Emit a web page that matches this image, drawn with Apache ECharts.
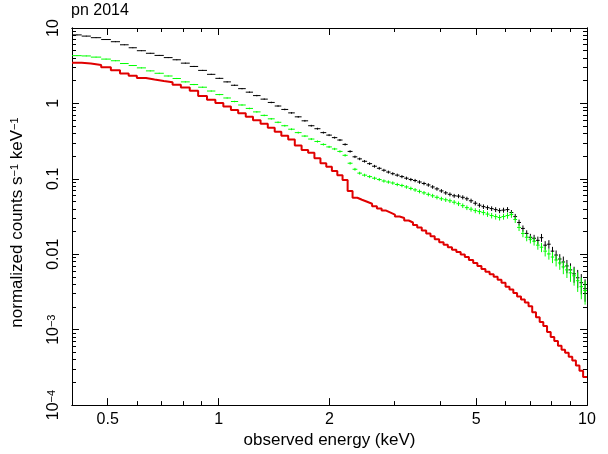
<!DOCTYPE html>
<html><head><meta charset="utf-8">
<script src="https://cdn.jsdelivr.net/npm/echarts@6/dist/echarts.min.js"></script>
<style>html,body{margin:0;padding:0;background:#fff}#c{width:608px;height:454px}</style>
</head><body><div id="c"></div>
<script>
// ---- data ----
const titleText = 'pn 2014';
const binEdges = [0.40,0.425,0.45,0.48,0.51,0.54,0.57,0.60,0.635,0.67,
  0.71,0.75,0.79,0.835,0.88,0.93,0.98,1.03,1.08,1.13,
  1.185,1.24,1.30,1.36,1.42,1.48,1.545,1.61,1.68,1.75,
  1.82,1.89,1.96,2.03,2.10,2.17,2.24,2.31,2.38,2.45,
  2.53,2.61,2.69,2.77,2.85,2.93,3.01,3.10,3.19,3.28,
  3.37,3.46,3.56,3.66,3.76,3.86,3.97,4.08,4.19,4.30,
  4.42,4.54,4.66,4.78,4.91,5.04,5.17,5.30,5.44,5.58,
  5.72,5.86,6.01,6.16,6.31,6.46,6.62,6.78,6.94,7.10,
  7.27,7.44,7.61,7.79,7.97,8.15,8.34,8.53,8.72,8.92,
  9.12,9.33,9.54,9.76,10.0];
const blackRate = [8.10,7.81,7.44,7.03,6.58,5.99,5.47,5.00,4.62,4.33,
  4.05,3.79,3.42,3.09,2.74,2.43,2.15,1.93,1.74,1.57,
  1.41,1.27,1.14,1.03,0.924,0.832,0.749,0.664,0.588,0.506,
  0.462,0.410,0.380,0.352,0.327,0.286,0.231,0.196,0.184,0.171,
  0.159,0.147,0.138,0.130,0.123,0.117,0.112,0.107,0.102,0.0979,
  0.0950,0.0908,0.0868,0.0830,0.0781,0.0736,0.0692,0.0652,0.0623,0.0596,
  0.0590,0.0569,0.0544,0.0512,0.0475,0.0447,0.0428,0.0415,0.0403,0.0391,
  0.0379,0.0385,0.0391,0.0357,0.0316,0.0264,0.0220,0.0189,0.0168,0.0163,
  0.0153,0.0166,0.0132,0.0136,0.0110,0.00976,0.00865,0.00790,0.00700,0.00621,
  0.00551,0.00488,0.00420,0.00350];
const blackErr = [0.012,0.012,0.012,0.013,0.013,0.013,0.014,0.014,0.014,0.015,
  0.015,0.016,0.016,0.017,0.017,0.018,0.018,0.019,0.020,0.020,
  0.021,0.022,0.022,0.023,0.024,0.025,0.025,0.026,0.027,0.028,
  0.029,0.030,0.030,0.031,0.032,0.034,0.036,0.038,0.040,0.040,
  0.041,0.042,0.043,0.044,0.045,0.046,0.047,0.048,0.049,0.050,
  0.051,0.052,0.053,0.054,0.055,0.056,0.057,0.058,0.060,0.060,
  0.062,0.063,0.064,0.066,0.067,0.068,0.070,0.070,0.072,0.074,
  0.075,0.076,0.078,0.080,0.084,0.090,0.095,0.100,0.110,0.110,
  0.120,0.120,0.130,0.130,0.140,0.150,0.160,0.180,0.200,0.220,
  0.240,0.270,0.300,0.330];
const greenRate = [4.30,4.26,4.11,3.87,3.68,3.38,3.18,2.96,2.70,2.51,
  2.31,2.14,1.93,1.78,1.64,1.46,1.31,1.18,1.06,0.953,
  0.858,0.772,0.694,0.625,0.562,0.506,0.455,0.410,0.369,0.337,
  0.313,0.286,0.265,0.249,0.231,0.205,0.161,0.134,0.119,0.112,
  0.107,0.102,0.0979,0.0936,0.0908,0.0881,0.0842,0.0817,0.0781,0.0746,
  0.0714,0.0682,0.0652,0.0623,0.0596,0.0569,0.0544,0.0528,0.0512,0.0490,
  0.0468,0.0441,0.0415,0.0396,0.0379,0.0368,0.0357,0.0341,0.0326,0.0316,
  0.0307,0.0316,0.0326,0.0336,0.0289,0.0227,0.0189,0.0168,0.0158,0.0149,
  0.0132,0.0124,0.0110,0.0101,0.00919,0.00840,0.00767,0.00680,0.00621,0.00567,
  0.00518,0.00446,0.00372,0.00330];
const greenErr = [0.013,0.013,0.013,0.014,0.014,0.014,0.015,0.015,0.016,0.016,
  0.017,0.017,0.018,0.018,0.019,0.020,0.020,0.021,0.022,0.022,
  0.023,0.024,0.025,0.026,0.027,0.028,0.028,0.029,0.030,0.031,
  0.032,0.033,0.034,0.035,0.036,0.038,0.040,0.042,0.044,0.045,
  0.046,0.047,0.048,0.049,0.050,0.051,0.052,0.053,0.054,0.056,
  0.057,0.058,0.059,0.060,0.062,0.063,0.064,0.066,0.067,0.068,
  0.070,0.071,0.072,0.074,0.076,0.078,0.080,0.082,0.084,0.086,
  0.088,0.090,0.092,0.095,0.100,0.105,0.110,0.115,0.120,0.125,
  0.130,0.140,0.150,0.160,0.170,0.180,0.190,0.200,0.220,0.240,
  0.260,0.290,0.320,0.350];
const redModel = [3.45,3.38,3.23,3.01,2.75,2.50,2.32,2.17,2.07,1.98,
  1.91,1.77,1.63,1.47,1.25,1.12,1.01,0.911,0.820,0.738,
  0.664,0.597,0.538,0.477,0.422,0.374,0.332,0.277,0.242,0.221,
  0.187,0.161,0.145,0.127,0.112,0.0964,0.0692,0.0561,0.0528,0.0497,
  0.0468,0.0434,0.0403,0.0379,0.0357,0.0336,0.0316,0.0302,0.0280,0.0264,
  0.0245,0.0227,0.0207,0.0189,0.0173,0.0158,0.0144,0.0134,0.0124,0.0115,
  0.0107,0.0099,0.00919,0.00840,0.00767,0.00700,0.00640,0.00585,0.00543,0.00503,
  0.00460,0.00420,0.00372,0.00340,0.00306,0.00275,0.00252,0.00230,0.00204,0.00170,
  0.00146,0.00126,0.00112,0.000930,0.000800,0.000709,0.000610,0.000541,0.000494,0.000438,
  0.000390,0.000336,0.000285,0.000235];
const xMajorTicks = [0.5, 1, 2, 5, 10];
const xMinorTicks = [0.4, 0.6, 0.7, 0.8, 0.9, 3, 4, 6, 7, 8, 9];
const yMajorTicks = [1e-4, 1e-3, 0.01, 0.1, 1, 10];
const yMinorTicks = [2e-4,3e-4,4e-4,5e-4,6e-4,7e-4,8e-4,9e-4,
  2e-3,3e-3,4e-3,5e-3,6e-3,7e-3,8e-3,9e-3,
  0.02,0.03,0.04,0.05,0.06,0.07,0.08,0.09,
  0.2,0.3,0.4,0.5,0.6,0.7,0.8,0.9,
  2,3,4,5,6,7,8,9];
const yTickLabels = ['{n|10}{s|\u22124}', '{n|10}{s|\u22123}', '{n|0.01}', '{n|0.1}', '{n|1}', '{n|10}'];
const xName = 'observed energy (keV)';
const yName = '{t|normalized counts s}{s|\u22121}{t| keV}{s|\u22121}';

// ---- chart ----
const FONT = '"Liberation Sans", Arial, Helvetica, sans-serif';
const chart = echarts.init(document.getElementById('c'), null, {renderer: 'canvas'});

function xAxisDef(pos, ticks, len, withLabels, withName) {
  return {
    type: 'log', logBase: 10, min: 0.4, max: 10, position: pos,
    axisLine: {show: true, onZero: false, lineStyle: {color: '#000', width: 1}},
    axisTick: {show: true, inside: true, length: len, customValues: ticks, lineStyle: {color: '#000', width: 1}},
    axisLabel: withLabels ? {show: true, customValues: ticks, margin: 6, color: '#000', fontSize: 16, fontFamily: FONT,
      formatter: v => String(v)} : {show: false},
    splitLine: {show: false}, minorTick: {show: false},
    name: withName ? xName : '', nameLocation: 'middle', nameGap: 24,
    nameTextStyle: {color: '#000', fontSize: 17, fontFamily: FONT}
  };
}
function yAxisDef(pos, ticks, len, withLabels, withName) {
  return {
    type: 'log', logBase: 10, min: 1e-4, max: 10, position: pos,
    axisLine: {show: true, onZero: false, lineStyle: {color: '#000', width: 1}},
    axisTick: {show: true, inside: true, length: len, customValues: ticks, lineStyle: {color: '#000', width: 1}},
    axisLabel: withLabels ? {show: true, customValues: ticks, rotate: 90, margin: 10, color: '#000', fontFamily: FONT,
      formatter: v => yTickLabels[Math.round(Math.log10(v)) + 4],
      rich: {n: {fontSize: 16, fontFamily: FONT, color: '#000', verticalAlign: 'bottom'},
             s: {fontSize: 11, fontFamily: FONT, color: '#000', verticalAlign: 'top'}}} : {show: false},
    splitLine: {show: false}, minorTick: {show: false},
    name: withName ? yName : '', nameLocation: 'middle', nameGap: 46, nameRotate: 90,
    nameTextStyle: {color: '#000', fontFamily: FONT, padding: [0, 12, 0, 0],
      rich: {t: {fontSize: 17, fontFamily: FONT, color: '#000', verticalAlign: 'bottom'},
             s: {fontSize: 11, fontFamily: FONT, color: '#000', verticalAlign: 'top'}}}
  };
}

function crossSeries(name, rate, err, color) {
  const data = rate.map((v, i) => [binEdges[i], binEdges[i + 1], v, err[i]]);
  return {
    type: 'custom', name, data, clip: true, xAxisIndex: 0, yAxisIndex: 0,
    encode: {x: [0, 1], y: 2},
    renderItem(params, api) {
      const lo = api.value(0), hi = api.value(1), v = api.value(2), e = api.value(3);
      const mid = (lo + hi) / 2;
      const a = api.coord([lo, v]), b = api.coord([hi, v]);
      const t = api.coord([mid, v * (1 + e)]), u = api.coord([mid, v * (1 - e)]);
      return {type: 'group', children: [
        {type: 'line', shape: {x1: a[0], y1: a[1], x2: b[0], y2: b[1]}, style: {stroke: color, lineWidth: 1}},
        {type: 'line', shape: {x1: t[0], y1: t[1], x2: u[0], y2: u[1]}, style: {stroke: color, lineWidth: 1}}
      ]};
    }
  };
}

const redData = redModel.map((v, i) => [binEdges[i], v]);
redData.push([binEdges[binEdges.length - 1], redModel[redModel.length - 1]]);

chart.setOption({
  animation: false,
  backgroundColor: '#fff',
  title: {text: titleText, left: 71, top: 3, padding: 0,
    textStyle: {color: '#000', fontSize: 16, fontWeight: 'normal', fontFamily: FONT}},
  grid: {left: 72, right: 21, top: 28, bottom: 44, containLabel: false},
  xAxis: [
    xAxisDef('bottom', xMajorTicks, 7, true, true),
    xAxisDef('bottom', xMinorTicks, 4, false, false),
    xAxisDef('top', xMajorTicks, 7, false, false),
    xAxisDef('top', xMinorTicks, 4, false, false)
  ],
  yAxis: [
    yAxisDef('left', yMajorTicks, 7, true, true),
    yAxisDef('left', yMinorTicks, 4, false, false),
    yAxisDef('right', yMajorTicks, 7, false, false),
    yAxisDef('right', yMinorTicks, 4, false, false)
  ],
  series: [
    crossSeries('pn 2014 data A', blackRate, blackErr, '#000000'),
    crossSeries('pn 2014 data B', greenRate, greenErr, '#00ff00'),
    {type: 'line', name: 'model', data: redData, step: 'end', showSymbol: false, symbol: 'none',
      xAxisIndex: 0, yAxisIndex: 0, clip: true,
      lineStyle: {color: '#e00000', width: 2}}
  ]
});
</script></body></html>
